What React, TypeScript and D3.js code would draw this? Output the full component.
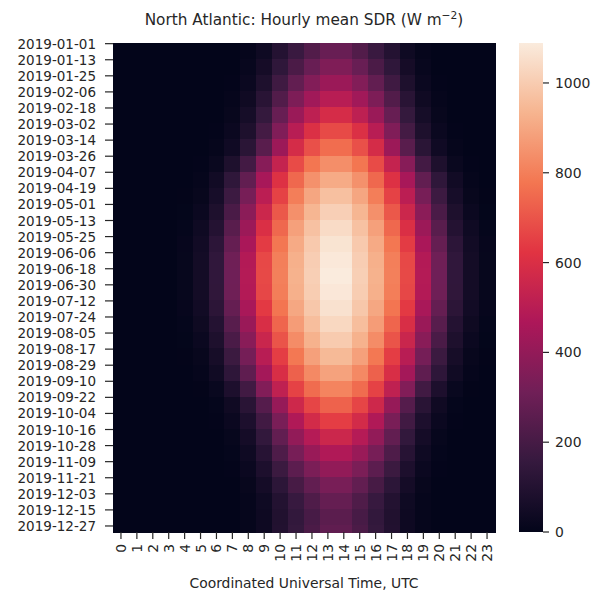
import React from "react";
import * as d3 from "d3";

// hour of day (UTC) columns
const hourLabels = [
  "0", "1", "2", "3", "4", "5", "6", "7", "8", "9", "10", "11",
  "12", "13", "14", "15", "16", "17", "18", "19", "20", "21", "22", "23",
];

// one row per 12-day block, labelled by its first day
const rowDates = [
  "2019-01-01", "2019-01-13", "2019-01-25", "2019-02-06", "2019-02-18",
  "2019-03-02", "2019-03-14", "2019-03-26", "2019-04-07", "2019-04-19",
  "2019-05-01", "2019-05-13", "2019-05-25", "2019-06-06", "2019-06-18",
  "2019-06-30", "2019-07-12", "2019-07-24", "2019-08-05", "2019-08-17",
  "2019-08-29", "2019-09-10", "2019-09-22", "2019-10-04", "2019-10-16",
  "2019-10-28", "2019-11-09", "2019-11-21", "2019-12-03", "2019-12-15",
  "2019-12-27",
];

// hourly mean SDR, W m-2 (rows follow rowDates, columns follow hourLabels)
const sdr = [
  [0, 0, 0, 0, 0, 0, 0, 1, 9, 38, 104, 165, 232, 290, 290, 232, 165, 104, 38, 9, 1, 0, 0, 0],
  [0, 0, 0, 0, 0, 0, 0, 1, 16, 58, 137, 214, 291, 350, 350, 291, 214, 137, 58, 16, 1, 0, 0, 0],
  [0, 0, 0, 0, 0, 0, 0, 3, 25, 84, 181, 273, 357, 420, 420, 357, 273, 181, 84, 25, 3, 0, 0, 0],
  [0, 0, 0, 0, 0, 0, 0, 8, 40, 118, 233, 345, 435, 500, 500, 435, 345, 233, 118, 40, 8, 0, 0, 0],
  [0, 0, 0, 0, 0, 0, 1, 15, 59, 152, 287, 418, 515, 585, 585, 515, 418, 287, 152, 59, 15, 1, 0, 0],
  [0, 0, 0, 0, 0, 0, 3, 25, 84, 196, 351, 500, 604, 675, 675, 604, 500, 351, 196, 84, 25, 3, 0, 0],
  [0, 0, 0, 0, 0, 0, 8, 42, 121, 250, 424, 584, 690, 758, 758, 690, 584, 424, 250, 121, 42, 8, 0, 0],
  [0, 0, 0, 0, 0, 3, 21, 84, 193, 369, 536, 679, 779, 838, 838, 779, 679, 536, 369, 193, 84, 21, 3, 0],
  [0, 0, 0, 0, 0, 9, 46, 137, 273, 455, 610, 746, 846, 910, 910, 846, 746, 610, 455, 273, 137, 46, 9, 0],
  [0, 0, 0, 0, 2, 15, 63, 174, 329, 508, 658, 799, 898, 968, 968, 898, 799, 658, 508, 329, 174, 63, 15, 2],
  [0, 0, 0, 0, 4, 25, 84, 212, 379, 556, 708, 844, 940, 1011, 1011, 940, 844, 708, 556, 379, 212, 84, 25, 4],
  [0, 0, 0, 0, 7, 37, 104, 251, 423, 600, 746, 882, 971, 1044, 1044, 971, 882, 746, 600, 423, 251, 104, 37, 7],
  [0, 0, 0, 0, 11, 47, 128, 283, 459, 641, 780, 908, 993, 1068, 1068, 993, 908, 780, 641, 459, 283, 128, 47, 11],
  [0, 0, 0, 0, 13, 54, 141, 308, 486, 670, 800, 924, 1005, 1081, 1081, 1005, 924, 800, 670, 486, 308, 141, 54, 13],
  [0, 0, 0, 0, 13, 54, 141, 309, 488, 673, 803, 928, 1009, 1089, 1089, 1009, 928, 803, 673, 488, 309, 141, 54, 13],
  [0, 0, 0, 0, 13, 54, 140, 308, 486, 669, 798, 923, 1003, 1079, 1079, 1003, 923, 798, 669, 486, 308, 140, 54, 13],
  [0, 0, 0, 0, 11, 47, 127, 281, 456, 637, 775, 902, 987, 1061, 1061, 987, 902, 775, 637, 456, 281, 127, 47, 11],
  [0, 0, 0, 0, 7, 36, 103, 248, 419, 595, 739, 874, 962, 1034, 1034, 962, 874, 739, 595, 419, 248, 103, 36, 7],
  [0, 0, 0, 0, 4, 25, 83, 210, 374, 549, 699, 833, 928, 998, 998, 928, 833, 699, 549, 374, 210, 83, 25, 4],
  [0, 0, 0, 0, 2, 15, 62, 171, 323, 499, 646, 784, 882, 950, 950, 882, 784, 646, 499, 323, 171, 62, 15, 2],
  [0, 0, 0, 0, 0, 9, 44, 133, 266, 444, 595, 728, 826, 888, 888, 826, 728, 595, 444, 266, 133, 44, 9, 0],
  [0, 0, 0, 0, 0, 2, 20, 81, 187, 357, 520, 658, 755, 812, 812, 755, 658, 520, 357, 187, 81, 20, 2, 0],
  [0, 0, 0, 0, 0, 0, 7, 40, 117, 241, 409, 563, 665, 731, 731, 665, 563, 409, 241, 117, 40, 7, 0, 0],
  [0, 0, 0, 0, 0, 0, 3, 24, 81, 187, 335, 477, 577, 645, 645, 577, 477, 335, 187, 81, 24, 3, 0, 0],
  [0, 0, 0, 0, 0, 0, 1, 14, 56, 145, 273, 398, 490, 557, 557, 490, 398, 273, 145, 56, 14, 1, 0, 0],
  [0, 0, 0, 0, 0, 0, 0, 7, 38, 112, 222, 329, 415, 477, 477, 415, 329, 222, 112, 38, 7, 0, 0, 0],
  [0, 0, 0, 0, 0, 0, 0, 3, 24, 80, 171, 259, 338, 398, 398, 338, 259, 171, 80, 24, 3, 0, 0, 0],
  [0, 0, 0, 0, 0, 0, 0, 1, 15, 55, 129, 202, 275, 331, 331, 275, 202, 129, 55, 15, 1, 0, 0, 0],
  [0, 0, 0, 0, 0, 0, 0, 1, 8, 37, 101, 160, 225, 281, 281, 225, 160, 101, 37, 8, 1, 0, 0, 0],
  [0, 0, 0, 0, 0, 0, 0, 1, 8, 33, 92, 145, 204, 255, 255, 204, 145, 92, 33, 8, 1, 0, 0, 0],
  [0, 0, 0, 0, 0, 0, 0, 1, 8, 35, 96, 153, 214, 268, 268, 214, 153, 96, 35, 8, 1, 0, 0, 0],
];

// seaborn "rocket" colour stops
const rocketStops = [
  "#03051a", "#35193e", "#701f57", "#ad1759",
  "#e13342", "#f37651", "#f6b48f", "#faebdd",
];

const W = 599;
const H = 592;
const plot = { left: 113, right: 495, top: 43, bottom: 532 };
const cbar = { left: 519, right: 543 };
const ink = "#262626";
const font = "DejaVu Sans, sans-serif";

export default function App() {
  const parse = d3.utcParse("%Y-%m-%d");
  const yearStart = parse("2019-01-01")!;
  const yearEnd = parse("2020-01-01")!;
  const nDays = d3.utcDay.count(yearStart, yearEnd);
  const startDays = rowDates.map((s) => d3.utcDay.count(yearStart, parse(s)!));

  const x = d3.scaleBand<string>().domain(hourLabels).range([plot.left, plot.right]);
  const y = d3.scaleLinear().domain([0, nDays]).range([plot.top, plot.bottom]);

  const vmax = d3.max(sdr.flat()) ?? 1;
  const color = d3
    .scaleSequential(d3.piecewise(d3.interpolateRgb, rocketStops))
    .domain([0, vmax]);
  const cy = d3.scaleLinear().domain([0, vmax]).range([plot.bottom, plot.top]);
  const cticks = cy.ticks(6);

  return (
    <svg
      width={W}
      height={H}
      style={{ position: "absolute", left: 0, top: 0, background: "#fff" }}
      fontFamily={font}
    >
      <defs>
        <linearGradient id="rocket" x1="0" y1="1" x2="0" y2="0">
          {rocketStops.map((c, i) => (
            <stop key={i} offset={i / (rocketStops.length - 1)} stopColor={c} />
          ))}
        </linearGradient>
      </defs>

      {/* title */}
      <text
        x={(plot.left + plot.right) / 2}
        y={25}
        textAnchor="middle"
        fontSize={15.3}
        fill={ink}
      >
        North Atlantic: Hourly mean SDR (W m
        <tspan dy={-6} fontSize={10.7}>−2</tspan>
        <tspan dy={6}>)</tspan>
      </text>

      {/* heatmap cells */}
      <g shapeRendering="crispEdges">
        {sdr.map((row, i) => {
          const y0 = y(startDays[i]);
          const y1 = y(i + 1 < startDays.length ? startDays[i + 1] : nDays);
          return row.map((v, j) => (
            <rect
              key={`${i}-${j}`}
              x={x(hourLabels[j])}
              y={y0}
              width={x.bandwidth() + 0.5}
              height={y1 - y0 + 0.5}
              fill={color(v)}
            />
          ));
        })}
      </g>

      {/* y axis: dates */}
      <g fontSize={13.5} fill={ink}>
        {rowDates.map((d, i) => {
          const ty = y(startDays[i] + 0.5);
          return (
            <g key={d}>
              <line x1={plot.left - 8} x2={plot.left} y1={ty} y2={ty} stroke={ink} strokeWidth={1.2} />
              <text x={plot.left - 17} y={ty} textAnchor="end" dominantBaseline="central">
                {d}
              </text>
            </g>
          );
        })}
      </g>

      {/* x axis: hours */}
      <g fontSize={13.9} fill={ink}>
        {hourLabels.map((h) => {
          const tx = (x(h) ?? 0) + x.bandwidth() / 2;
          return (
            <g key={h}>
              <line x1={tx} x2={tx} y1={plot.bottom} y2={plot.bottom + 7} stroke={ink} strokeWidth={1.2} />
              <text
                transform={`translate(${tx},${plot.bottom + 12}) rotate(-90)`}
                textAnchor="end"
                dominantBaseline="central"
              >
                {h}
              </text>
            </g>
          );
        })}
      </g>
      <text
        x={(plot.left + plot.right) / 2}
        y={588}
        textAnchor="middle"
        fontSize={13.9}
        fill={ink}
      >
        Coordinated Universal Time, UTC
      </text>

      {/* colour bar */}
      <rect
        x={cbar.left}
        y={plot.top}
        width={cbar.right - cbar.left}
        height={plot.bottom - plot.top}
        fill="url(#rocket)"
      />
      <g fontSize={13.9} fill={ink}>
        {cticks.map((t) => (
          <g key={t}>
            <line x1={cbar.right} x2={cbar.right + 6} y1={cy(t)} y2={cy(t)} stroke={ink} strokeWidth={1.2} />
            <text x={cbar.right + 12} y={cy(t)} dominantBaseline="central">
              {t}
            </text>
          </g>
        ))}
      </g>
    </svg>
  );
}
